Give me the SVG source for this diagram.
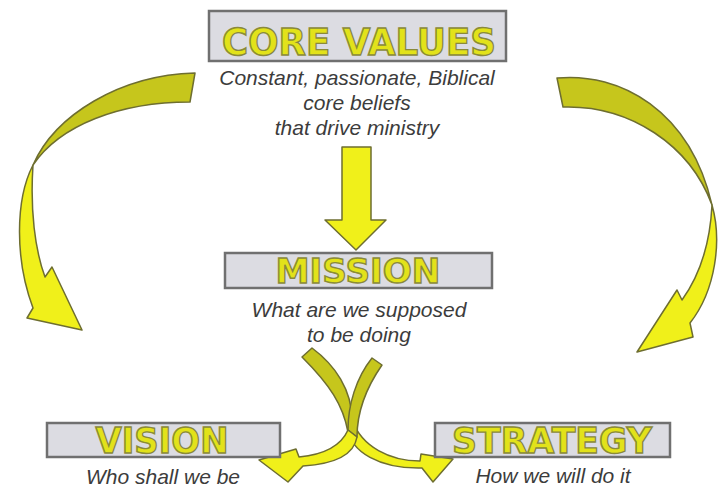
<svg xmlns="http://www.w3.org/2000/svg" width="724" height="488" viewBox="0 0 724 488">
<style>
.box{fill:#dcdce2;stroke:#707070;stroke-width:2.5}
.title{font-family:"DejaVu Sans","Liberation Sans",Arial,sans-serif;font-weight:bold;fill:#e2e21a;stroke:#8a8a3a;stroke-width:1.4;text-anchor:middle}
.sub{font-family:"Liberation Sans",Arial,sans-serif;font-style:italic;font-size:21px;fill:#3c3c3c;text-anchor:middle}
.back{fill:#c6c61c;stroke:#6e6e30;stroke-width:1.5;stroke-linejoin:round}
.front{fill:#f0f01a;stroke:#6e6e30;stroke-width:1.5;stroke-linejoin:round}
</style>
<rect width="724" height="488" fill="#ffffff"/>
<g id="connectors">
  <!-- down arrow core values -> mission -->
  <polygon class="front" fill="#f5f500" points="342,147 371,147 371,220 386,220 356,250 325,220 342,220"/>
  <!-- left arc -->
  <path class="back" d="M195,73 C120,75 55,115 33,165 C60,125 120,102 190,102 Z"/>
  <path class="front" d="M33,165 C15,200 15,260 33,308 L27,318 L82,330 L52,267 L45,277 C35,250 30,210 33,165 Z"/>
  <!-- right arc -->
  <path class="back" d="M557,78 C620,72 690,110 712,205 C690,145 630,105 563,107 Z"/>
  <path class="front" d="M712,205 C722,240 716,290 690,323 L693,337 L637,352 L677,290 L682,300 C700,275 710,245 712,205 Z"/>
  <!-- crossing arrow A: mission -> strategy -->
  <path class="back" d="M312,348 C335,365 352,390 352,420 L348,432 C343,405 330,385 302,357 Z"/>
  <path class="front" d="M348,428 C350,452 380,469 422,468 L433,482 L453,459 L421,454 L420,461 C390,461 362,447 352,420 Z"/>
  <!-- crossing arrow B: mission -> vision -->
  <path class="back" d="M372,358 L382,365 C366,388 357,412 357,437 L348,430 C348,405 356,378 372,358 Z"/>
  <path class="front" d="M357,437 C354,455 335,464 303,466 L288,482 L259,460 L296,449 L299,457 C320,455 340,448 348,430 Z"/>
</g>
<g id="core-values">
  <rect class="box" x="209" y="11" width="297" height="50"/>
  <text class="title" x="359" y="55" font-size="37" textLength="274" lengthAdjust="spacingAndGlyphs">CORE VALUES</text>
  <text class="sub" x="357" y="85">Constant, passionate, Biblical</text>
  <text class="sub" x="357" y="110">core beliefs</text>
  <text class="sub" x="357" y="135">that drive ministry</text>
</g>
<g id="mission">
  <rect class="box" x="225" y="253" width="267" height="35"/>
  <text class="title" x="358" y="283" font-size="34" textLength="165" lengthAdjust="spacingAndGlyphs">MISSION</text>
  <text class="sub" x="359" y="317">What are we supposed</text>
  <text class="sub" x="359" y="342">to be doing</text>
</g>
<g id="vision">
  <rect class="box" x="47" y="423" width="233" height="34"/>
  <text class="title" x="162" y="453" font-size="35" textLength="133" lengthAdjust="spacingAndGlyphs">VISION</text>
  <text class="sub" x="163" y="484">Who shall we be</text>
</g>
<g id="strategy">
  <rect class="box" x="435" y="423" width="235" height="34"/>
  <text class="title" x="552" y="453" font-size="35" textLength="200" lengthAdjust="spacingAndGlyphs">STRATEGY</text>
  <text class="sub" x="553" y="483">How we will do it</text>
</g>
</svg>
